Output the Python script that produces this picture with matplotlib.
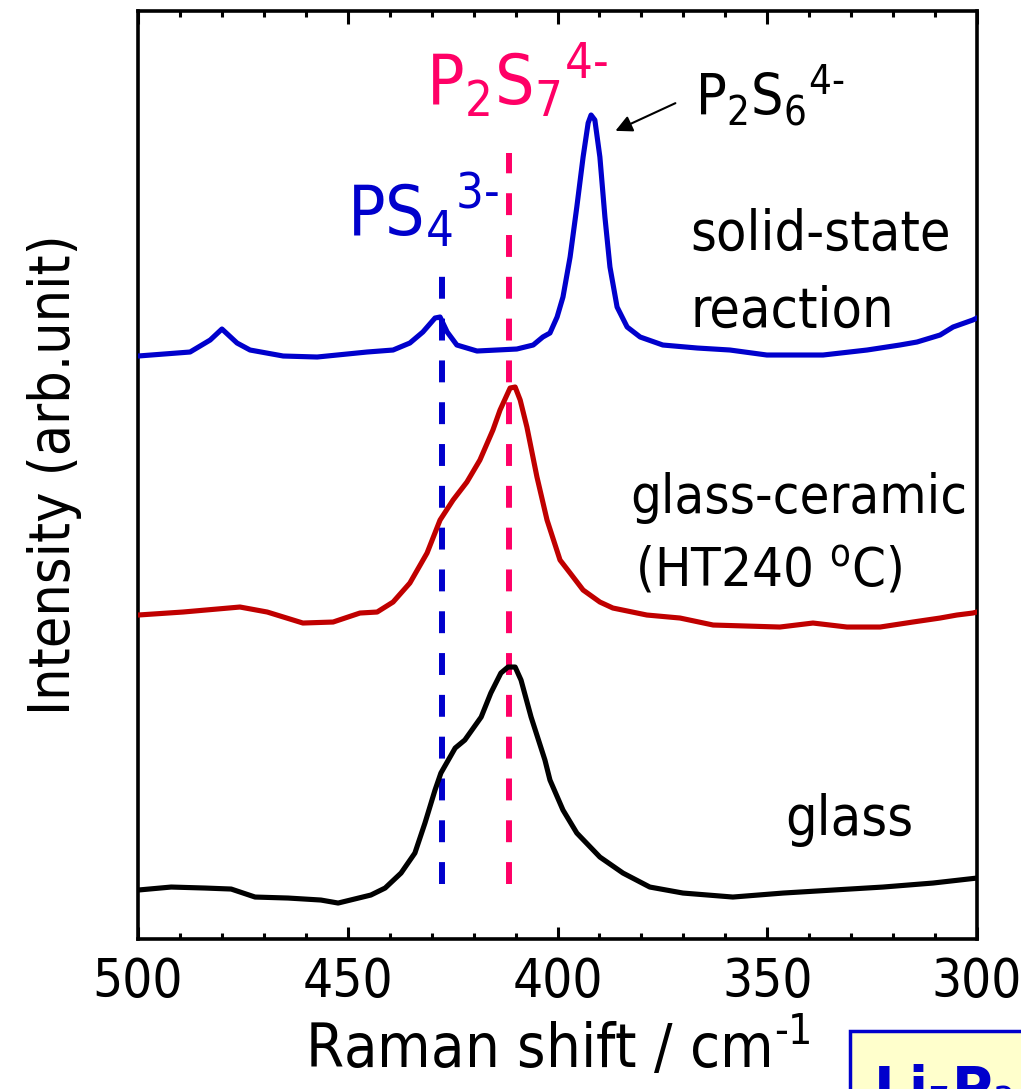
import matplotlib
matplotlib.use("Agg")
import matplotlib.pyplot as plt
from matplotlib.patches import Rectangle

plt.rcParams["font.family"] = ["DejaVu Sans"]
plt.rcParams["font.stretch"] = "condensed"
plt.rcParams["mathtext.fontset"] = "custom"
plt.rcParams["mathtext.rm"] = "DejaVu Sans:stretch=condensed"
plt.rcParams["mathtext.it"] = "DejaVu Sans:stretch=condensed"
plt.rcParams["mathtext.bf"] = "DejaVu Sans:bold"

# Raman spectra (wavenumber in cm-1, intensity in arb. units, already offset)
ssr_shift = [500.0, 487.6, 482.8, 480.0, 476.4, 473.3, 465.4, 457.3, 445.4, 439.2,
             435.2, 432.1, 429.2, 428.0, 426.3, 424.0, 419.2, 409.7, 405.8, 403.5,
             401.8, 400.1, 398.7, 397.0, 395.4, 393.9, 392.7, 392.0, 391.1, 389.9,
             388.7, 387.5, 385.8, 383.4, 380.3, 374.9, 366.7, 358.9, 350.1, 336.7,
             326.2, 318.4, 314.3, 308.8, 305.7, 301.0, 300.0]
ssr_int = [5.83, 5.87, 5.99, 6.10, 5.96, 5.89, 5.83, 5.82, 5.87, 5.89,
           5.96, 6.07, 6.21, 6.22, 6.07, 5.94, 5.88, 5.90, 5.94, 6.02,
           6.06, 6.22, 6.42, 6.82, 7.32, 7.82, 8.16, 8.24, 8.19, 7.82,
           7.22, 6.72, 6.32, 6.12, 6.02, 5.94, 5.91, 5.89, 5.84, 5.84,
           5.89, 5.94, 5.97, 6.04, 6.12, 6.19, 6.21]

gc_shift = [500.0, 489.3, 475.7, 469.2, 460.7, 453.5, 447.1, 443.0, 439.2, 435.2,
            431.1, 428.0, 424.9, 421.6, 418.5, 415.4, 413.7, 411.3, 410.1, 408.9,
            407.3, 404.9, 402.5, 399.4, 397.0, 393.9, 389.9, 386.8, 378.7, 370.8,
            362.9, 347.0, 339.1, 331.0, 323.1, 315.3, 308.8, 304.8, 301.0, 300.0]
gc_int = [3.24, 3.27, 3.32, 3.27, 3.16, 3.17, 3.26, 3.27, 3.37, 3.56,
          3.86, 4.19, 4.39, 4.57, 4.79, 5.09, 5.29, 5.51, 5.52, 5.39,
          5.12, 4.62, 4.19, 3.79, 3.66, 3.49, 3.37, 3.31, 3.24, 3.21,
          3.14, 3.12, 3.16, 3.12, 3.12, 3.17, 3.21, 3.24, 3.26, 3.27]

glass_shift = [500.0, 492.1, 484.0, 477.8, 472.1, 464.2, 456.4, 452.3, 444.5, 441.1,
               437.3, 434.0, 431.6, 429.2, 427.8, 424.4, 422.1, 418.2, 415.9, 413.5,
               411.8, 410.1, 408.7, 406.3, 403.0, 401.8, 398.7, 395.4, 389.9, 384.4,
               378.0, 370.1, 358.2, 346.2, 334.3, 322.4, 310.5, 300.0]
glass_int = [0.49, 0.52, 0.51, 0.50, 0.42, 0.41, 0.39, 0.36, 0.44, 0.51,
             0.66, 0.86, 1.16, 1.49, 1.66, 1.91, 1.99, 2.22, 2.46, 2.66,
             2.72, 2.72, 2.59, 2.22, 1.79, 1.59, 1.29, 1.06, 0.82, 0.66,
             0.52, 0.46, 0.42, 0.46, 0.49, 0.52, 0.56, 0.61]

# reference band positions
ps4_pos = 427.5
p2s7_pos = 411.6

fig = plt.figure(figsize=(10.21, 10.89), dpi=100)
ax = fig.add_axes([0.1352, 0.1377, 0.8217, 0.8522])

ax.plot(ssr_shift, ssr_int, color="#0000cc", lw=3.7, zorder=3)
ax.plot(gc_shift, gc_int, color="#c00000", lw=3.7, zorder=3)
ax.plot(glass_shift, glass_int, color="black", lw=3.7, zorder=3)

dash = (0, (22 / 6, 20 / 6))
ax.plot([ps4_pos, ps4_pos], [0.55, 6.66], color="#0000cc", lw=4.3, ls=dash, zorder=2)
ax.plot([p2s7_pos, p2s7_pos], [0.55, 7.86], color="#ff0066", lw=4.3, ls=dash, zorder=2)

ax.set_xlim(500, 300)
ax.set_ylim(0, 9.28)
ax.set_yticks([])
ax.set_xticks([500, 450, 400, 350, 300])
ax.set_xticks(range(300, 501, 10), minor=True)
ax.tick_params(axis="x", which="both", direction="in", top=True, width=2.2,
               labelsize=38, pad=12)
ax.tick_params(axis="x", which="major", length=9)
ax.tick_params(axis="x", which="minor", length=4.5)
for sp in ax.spines.values():
    sp.set_linewidth(2.6)

ax.set_xlabel("Raman shift / cm$^{\\text{-}1}$", fontsize=44, labelpad=6)
ax.set_ylabel("Intensity (arb.unit)", fontsize=41, labelpad=40)

# peak assignments
ax.text(450.2, 7.04, "PS$_4$$^{3\\text{-}}$", color="#0000cc", fontsize=50, va="baseline")
ax.text(431.3, 8.34, "P$_2$S$_7$$^{4\\text{-}}$", color="#ff0066", fontsize=50, va="baseline")
ax.text(367.2, 8.22, "P$_2$S$_6$$^{4\\text{-}}$", color="black", fontsize=41, va="baseline")
ax.annotate("", xy=(386.8, 8.07), xytext=(371.3, 8.37),
            arrowprops=dict(arrowstyle="-|>", color="black", lw=1.5,
                            mutation_scale=25))

# sample names
ax.text(368.4, 6.89, "solid-state", fontsize=40, va="baseline")
ax.text(368.4, 6.12, "reaction", fontsize=40, va="baseline")
ax.text(382.7, 4.26, "glass-ceramic", fontsize=39, va="baseline")
ax.text(381.5, 3.52, "(HT240 $^{\\rm o}$C)", fontsize=39, va="baseline")
ax.text(345.8, 1.04, "glass", fontsize=40, va="baseline")

# composition box in the corner
fig.add_artist(Rectangle((850 / 1021, -0.05), 0.3, (1089 - 1031) / 1089 + 0.05,
                         transform=fig.transFigure, facecolor="#ffffcc",
                         edgecolor="#0000cc", lw=2.5))
fig.text(873 / 1021, 1 - 1063 / 1089, "Li$_7$P$_3$S$_{11}$", color="#0000cc",
         fontsize=40, fontweight="bold", fontstretch="normal", va="top")

fig.savefig("out.png", dpi=100)
